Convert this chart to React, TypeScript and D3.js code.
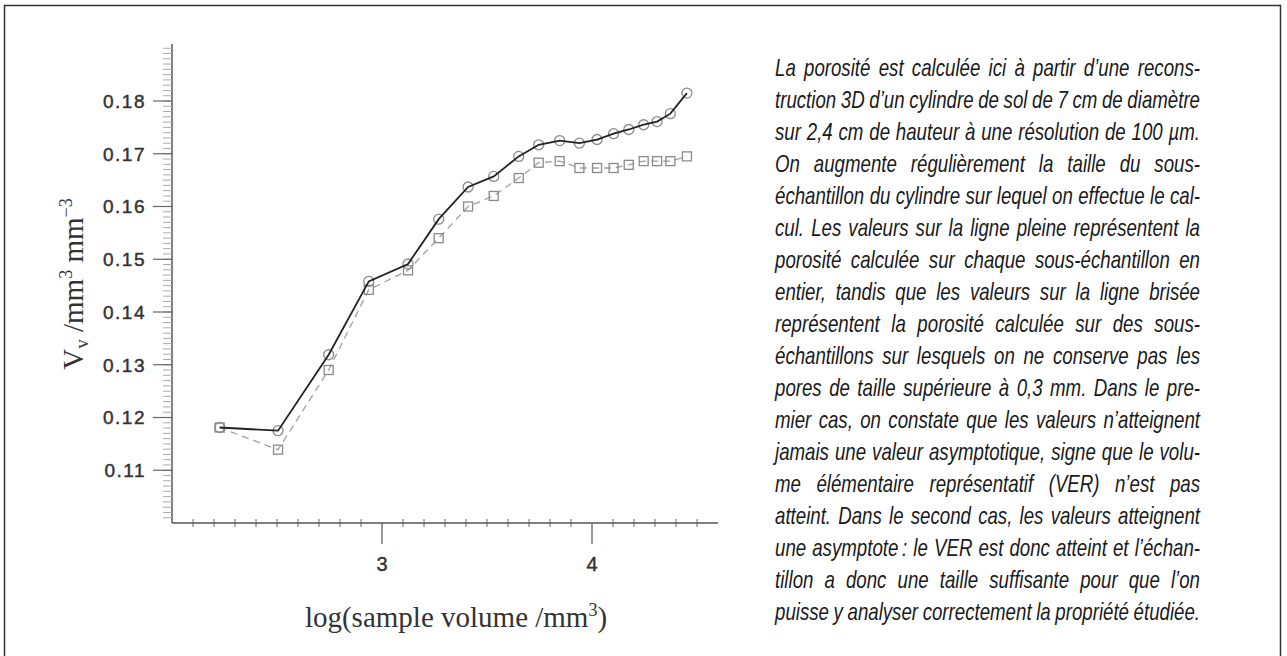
import React, { useEffect, useRef } from 'react';
import * as d3 from 'd3';

// log10 of sub-sample volume (mm^3)
const logVolume = [2.227, 2.505, 2.746, 2.937, 3.124, 3.27, 3.41, 3.532, 3.651, 3.746, 3.846, 3.94, 4.024, 4.103, 4.175, 4.246, 4.31, 4.373, 4.452];
// porosity on the whole sub-sample (solid line, circles)
const porosityFull = [0.1181, 0.1175, 0.1319, 0.1458, 0.1491, 0.1576, 0.1637, 0.1657, 0.1695, 0.1717, 0.1725, 0.172, 0.1727, 0.1738, 0.1746, 0.1755, 0.1761, 0.1776, 0.1815];
// porosity without pores > 0.3 mm (dashed line, squares)
const porosityFiltered = [0.1181, 0.1139, 0.129, 0.1442, 0.1479, 0.154, 0.16, 0.162, 0.1654, 0.1683, 0.1686, 0.1673, 0.1673, 0.1673, 0.1679, 0.1686, 0.1686, 0.1686, 0.1695];

const yTickValues = [0.11, 0.12, 0.13, 0.14, 0.15, 0.16, 0.17, 0.18];
const yTickLabels = ['0.11', '0.12', '0.13', '0.14', '0.15', '0.16', '0.17', '0.18'];
const xTickValues = [3, 4];
const xTickLabels = ['3', '4'];

const paragraphLines = [
  'La porosité est calculée ici à partir d’une recons-',
  'truction 3D d’un cylindre de sol de 7 cm de diamètre',
  'sur 2,4 cm de hauteur à une résolution de 100 µm.',
  'On augmente régulièrement la taille du sous-',
  'échantillon du cylindre sur lequel on effectue le cal-',
  'cul. Les valeurs sur la ligne pleine représentent la',
  'porosité calculée sur chaque sous-échantillon en',
  'entier, tandis que les valeurs sur la ligne brisée',
  'représentent la porosité calculée sur des sous-',
  'échantillons sur lesquels on ne conserve pas les',
  'pores de taille supérieure à 0,3 mm. Dans le pre-',
  'mier cas, on constate que les valeurs n’atteignent',
  'jamais une valeur asymptotique, signe que le volu-',
  'me élémentaire représentatif (VER) n’est pas',
  'atteint. Dans le second cas, les valeurs atteignent',
  'une asymptote\u2009: le VER est donc atteint et l’échan-',
  'tillon a donc une taille suffisante pour que l’on',
  'puisse y analyser correctement la propriété étudiée.',
];

const PARA_X = 775;
const PARA_W = 425;
const PARA_Y0 = 76;
const PARA_DY = 32;
const CONDENSE = 0.812;

export default function App() {
  const paraRef = useRef<SVGGElement>(null);

  const x = d3.scaleLinear().domain([2, 4]).range([172, 592]);
  const y = d3.scaleLinear().domain([0.1, 0.18]).range([523, 101]);
  const xEnd = 4.6;
  const yTop = 0.1908;

  const xMinor = d3.range(21, 46).map((d) => d / 10).filter((d) => Math.abs(d - Math.round(d)) > 1e-6);
  const yMinor = d3.range(101, 191).map((d) => d / 1000);

  const solid = d3
    .line<number>()
    .x((_d, i) => x(logVolume[i]))
    .y((d) => y(d))(porosityFull) as string;
  const dashed = d3
    .line<number>()
    .x((_d, i) => x(logVolume[i]))
    .y((d) => y(d))(porosityFiltered) as string;

  useEffect(() => {
    const run = () => {
      const g = paraRef.current;
      if (!g) return;
      const wl = PARA_W / CONDENSE;
      d3.select(g)
        .selectAll<SVGTextElement, unknown>('text')
        .each(function () {
          const t = this as SVGTextElement;
          t.setAttribute('word-spacing', '0');
          const len = t.getComputedTextLength();
          const n = ((t.textContent || '').match(/ /g) || []).length;
          if (n > 0) t.setAttribute('word-spacing', String((wl - len) / n));
        });
    };
    run();
    if ((document as any).fonts && (document as any).fonts.ready) {
      (document as any).fonts.ready.then(run);
    }
  }, []);

  const tickFont = '"Liberation Sans", Arial, Helvetica, sans-serif';
  const serif = '"Liberation Serif", "Times New Roman", serif';

  return (
    <svg
      width={1287}
      height={656}
      style={{ position: 'absolute', left: 0, top: 0, background: '#fff' }}
    >
      <rect x={0} y={0} width={1287} height={656} fill="#fff" />
      {/* outer frame (bottom edge lies below the picture) */}
      <rect x={4.5} y={5.5} width={1276} height={700} fill="none" stroke="#333" strokeWidth={1.5} />

      {/* y axis */}
      <g>
        <line x1={x(2)} x2={x(2)} y1={y(0.1)} y2={y(yTop)} stroke="#555" strokeWidth={1.5} />
        {yMinor.map((v) => (
          <line key={'ym' + v} x1={x(2) - 9} x2={x(2)} y1={y(v)} y2={y(v)} stroke="#aaa" strokeWidth={1} />
        ))}
        {yTickValues.map((v, i) => (
          <g key={'yt' + v}>
            <line x1={x(2) - 19} x2={x(2)} y1={y(v)} y2={y(v)} stroke="#666" strokeWidth={1.2} />
            <text
              x={146}
              y={y(v)}
              dy="0.36em"
              textAnchor="end"
              fontFamily={tickFont}
              fontSize={19}
              letterSpacing={1.5}
              fill="#333"
              stroke="#333"
              strokeWidth={0.45}
            >
              {yTickLabels[i]}
            </text>
          </g>
        ))}
      </g>

      {/* x axis */}
      <g>
        <line x1={x(2)} x2={x(xEnd)} y1={y(0.1)} y2={y(0.1)} stroke="#555" strokeWidth={1.5} />
        {xMinor.map((v) => (
          <line key={'xm' + v} x1={x(v)} x2={x(v)} y1={y(0.1) - 4} y2={y(0.1) + 4} stroke="#666" strokeWidth={1} />
        ))}
        {xTickValues.map((v, i) => (
          <g key={'xt' + v}>
            <line x1={x(v)} x2={x(v)} y1={y(0.1)} y2={y(0.1) + 21} stroke="#555" strokeWidth={1.2} />
            <text
              x={x(v)}
              y={571}
              textAnchor="middle"
              fontFamily={tickFont}
              fontSize={20}
              fill="#333"
              stroke="#333"
              strokeWidth={0.45}
            >
              {xTickLabels[i]}
            </text>
          </g>
        ))}
      </g>

      {/* axis titles */}
      <text x={456} y={627} textAnchor="middle" fontFamily={serif} fontSize={29} fill="#333">
        log(sample volume /mm<tspan dy={-11} fontSize={18}>3</tspan>
        <tspan dy={11}>)</tspan>
      </text>
      <text
        transform="translate(83,284) rotate(-90)"
        textAnchor="middle"
        fontFamily={serif}
        fontSize={29}
        fill="#333"
      >
        V<tspan dy={5} fontSize={19}>v</tspan>
        <tspan dy={-5}> /mm</tspan>
        <tspan dy={-11} fontSize={18}>3</tspan>
        <tspan dy={11}> mm</tspan>
        <tspan dy={-11} fontSize={18}>−3</tspan>
      </text>

      {/* dashed series with squares */}
      <path d={dashed} fill="none" stroke="#a0a0a0" strokeWidth={1.3} strokeDasharray="7,5" />
      {porosityFiltered.map((v, i) => (
        <rect
          key={'sq' + i}
          x={x(logVolume[i]) - 4.5}
          y={y(v) - 4.5}
          width={9}
          height={9}
          fill="none"
          stroke="#8a8a8a"
          strokeWidth={1.3}
        />
      ))}

      {/* solid series with circles */}
      {porosityFull.map((v, i) => (
        <circle
          key={'ci' + i}
          cx={x(logVolume[i])}
          cy={y(v)}
          r={5}
          fill="none"
          stroke="#8a8a8a"
          strokeWidth={1.3}
        />
      ))}
      <path d={solid} fill="none" stroke="#222" strokeWidth={1.8} />

      {/* paragraph */}
      <g ref={paraRef} transform={`translate(${PARA_X},0) scale(${CONDENSE},1)`}>
        {paragraphLines.map((ln, i) => (
          <text
            key={'p' + i}
            x={0}
            y={PARA_Y0 + i * PARA_DY}
            fontFamily={'"Liberation Sans", Arial, Helvetica, sans-serif'}
            fontStyle="italic"
            fontSize={23}
            fill="#1a1a1a"
            style={{ whiteSpace: 'pre' }}
          >
            {ln}
          </text>
        ))}
      </g>
    </svg>
  );
}
